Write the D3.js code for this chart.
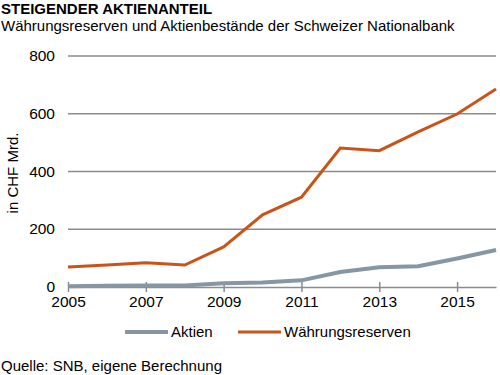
<html>
<head>
<meta charset="utf-8">
<style>
  body { margin: 0; background: #fff; }
  text { font-family: "Liberation Sans", Arial, sans-serif; fill: #000; }
</style>
</head>
<body>
<svg id="cont" width="500" height="375"></svg>
<script src="https://cdn.jsdelivr.net/npm/d3@7"></script>
<script>
var years = [2005, 2006, 2007, 2008, 2009, 2010, 2011, 2012, 2013, 2014, 2015, 2016];
var aktien = [3, 4, 5, 5, 13, 16, 23, 52, 68, 72, 99, 128];
var reserven = [69, 76, 84, 76, 139, 250, 311, 481, 472, 537, 599, 686];
var yTicks = [0, 200, 400, 600, 800];
var xTicks = [2005, 2007, 2009, 2011, 2013, 2015];

var svg = d3.select("#cont");

var x = d3.scaleLinear().domain([2005, 2016]).range([68, 496]);
var y = d3.scaleLinear().domain([0, 800]).range([287, 56]);

// titles
svg.append("text").attr("x", 1).attr("y", 14)
  .style("font-size", "15px").style("font-weight", "bold")
  .text("STEIGENDER AKTIENANTEIL");
svg.append("text").attr("x", 1).attr("y", 31)
  .style("font-size", "15px")
  .text("Währungsreserven und Aktienbestände der Schweizer Nationalbank");

// gridlines
svg.selectAll(".grid").data(yTicks.slice(1)).enter().append("line")
  .attr("x1", 68).attr("x2", 496)
  .attr("y1", d => y(d)).attr("y2", d => y(d))
  .attr("stroke", "#8c8c8c").attr("stroke-width", 1.5);

// y labels
svg.selectAll(".ylab").data(yTicks).enter().append("text")
  .attr("x", 55).attr("y", d => y(d) + 5)
  .attr("text-anchor", "end").style("font-size", "15.5px")
  .text(d => d);

svg.append("text")
  .attr("transform", "translate(18,173) rotate(-90)")
  .attr("text-anchor", "middle").style("font-size", "15px")
  .text("in CHF Mrd.");

// x axis
var xAxis = d3.axisBottom(x).tickValues(xTicks).tickFormat(d3.format("d"))
  .tickSize(4).tickSizeOuter(0);
var gx = svg.append("g").attr("transform", "translate(0," + y(0) + ")").call(xAxis);
gx.select(".domain").attr("stroke", "#8c8c8c").attr("stroke-width", 1.5);
gx.selectAll(".tick line").attr("stroke", "#8c8c8c").attr("stroke-width", 1.5)
  .attr("y1", -5).attr("y2", 5);
gx.selectAll(".tick text").attr("y", 9).style("font-size", "15.5px")
  .style("font-family", "Liberation Sans, Arial, sans-serif").attr("fill", "#000");

// lines
var line = d3.line().x((d, i) => x(years[i])).y(d => y(d));
svg.append("path").datum(aktien).attr("d", line)
  .attr("fill", "none").attr("stroke", "#8597a4").attr("stroke-width", 4);
svg.append("path").datum(reserven).attr("d", line)
  .attr("fill", "none").attr("stroke", "#c9541a").attr("stroke-width", 3);

// legend
var legend = [
  {name: "Aktien", color: "#8597a4", w: 4, x: 125},
  {name: "Währungsreserven", color: "#c9541a", w: 3, x: 238}
];
var lg = svg.selectAll(".lg").data(legend).enter().append("g");
lg.append("line").attr("x1", d => d.x).attr("x2", d => d.x + 43)
  .attr("y1", 332).attr("y2", 332)
  .attr("stroke", d => d.color).attr("stroke-width", d => d.w);
lg.append("text").attr("x", d => d.x + 46).attr("y", 337)
  .style("font-size", "15px").text(d => d.name);

svg.append("text").attr("x", 1).attr("y", 371)
  .style("font-size", "15px").text("Quelle: SNB, eigene Berechnung");
</script>
</body>
</html>
